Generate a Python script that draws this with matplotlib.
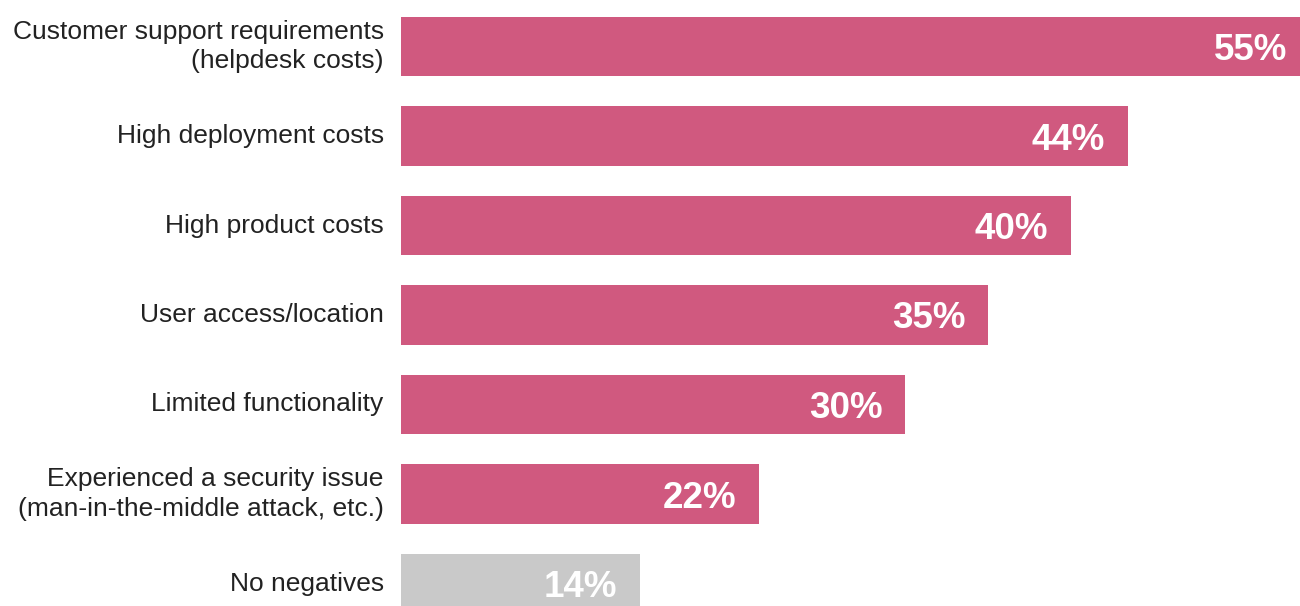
import matplotlib
matplotlib.use("Agg")
import matplotlib.pyplot as plt

categories = [
    "Customer support requirements\n(helpdesk costs)",
    "High deployment costs",
    "High product costs",
    "User access/location",
    "Limited functionality",
    "Experienced a security issue\n(man-in-the-middle attack, etc.)",
    "No negatives",
]
values = [54.8, 43.8, 40.4, 35.4, 30.4, 21.6, 14.4]
bar_colors = ["#D0597F"] * 6 + ["#C9C9C9"]

W, H = 1300, 606
PT = 72 / 100  # points per pixel at dpi 100
fig = plt.figure(figsize=(W / 100, H / 100), dpi=100)
left_px = 400.7
ax = fig.add_axes([left_px / W, 0, 1 - left_px / W, 1])

ypos = list(range(len(categories)))
ax.barh(ypos, values, height=0.662, color=bar_colors, edgecolor="none")

scale = 16.6  # px per percent
ax.set_xlim(0, (W - left_px) / scale)
pitch = 89.5
c0 = 46.5
ax.set_ylim((H - c0) / pitch, -c0 / pitch)

for y, v in zip(ypos, values):
    ax.annotate(f"{v:.0f}%", xy=(v, y), xycoords="data",
                xytext=(-23 * PT, -13.5 * PT), textcoords="offset points",
                ha="right", va="baseline", color="white", fontsize=26.5,
                fontweight="bold", family="Liberation Sans",
                annotation_clip=False)

for y, lab in zip(ypos, categories):
    ax.annotate(lab, xy=(0, y), xycoords=("axes fraction", "data"),
                xytext=(-17 * PT, 0), textcoords="offset points",
                ha="right", va="center", fontsize=19, color="#222222",
                family="Liberation Sans", linespacing=1.3)

ax.set_axis_off()
fig.savefig("out.png", dpi=100)
